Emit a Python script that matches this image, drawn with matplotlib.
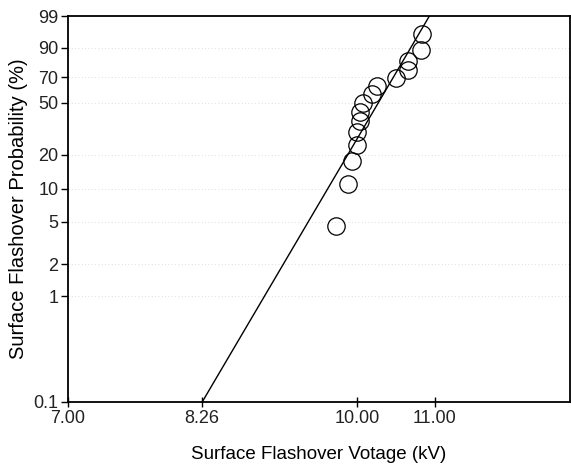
import numpy as np
import matplotlib
matplotlib.use("Agg")
import matplotlib.pyplot as plt
from matplotlib.ticker import FixedLocator, FixedFormatter, NullLocator

# measured flashover voltages (kV) and plotted probabilities (%)
voltage = [9.74, 9.89, 9.94, 10.00, 10.00, 10.03, 10.04, 10.07,
           10.18, 10.25, 10.49, 10.64, 10.64, 10.82, 10.83]
prob = [4.55, 11.04, 17.53, 24.03, 30.52, 37.01, 43.51, 50.00,
        56.49, 62.99, 69.48, 75.97, 82.47, 88.96, 95.45]

# weibull fit line (shape, scale in kV)
beta = 30.1
eta = 10.39

x_ticks = [7.00, 8.26, 10.00, 11.00]
y_ticks = [0.1, 1, 2, 5, 10, 20, 50, 70, 90, 99]
y_labels = ["0.1", "1", "2", "5", "10", "20", "50", "70", "90", "99"]

plt.rcParams["font.family"] = ["Liberation Sans", "DejaVu Sans"]


def fwd(p):
    p = np.clip(np.asarray(p, dtype=float), 1e-6, 100 - 1e-6)
    return np.log(-np.log(1 - p / 100.0))


def inv(y):
    return 100.0 * (1 - np.exp(-np.exp(y)))


fig = plt.figure(figsize=(5.71, 4.68), dpi=100)
ax = fig.add_axes([68 / 571, 66 / 468, 502 / 571, 386 / 468])

ax.set_xscale("log")
ax.set_yscale("function", functions=(fwd, inv))
ax.set_xlim(7.0, 13.0)
ax.set_ylim(0.1, 99)

# faint grid like the scanned original
for yt in y_ticks[1:-1]:
    ax.axhline(yt, color="#d0d0d0", lw=0.6, ls=(0, (1, 3)), zorder=0)

# fitted line
xs = np.exp(np.linspace(np.log(7.0), np.log(13.0), 300))
ps = 100 * (1 - np.exp(-(xs / eta) ** beta))
ax.plot(xs, ps, color="black", lw=1.0)

ax.plot(voltage, prob, "o", ms=12.5, mfc="none", mec="black", mew=0.9)

ax.xaxis.set_major_locator(FixedLocator(x_ticks))
ax.xaxis.set_major_formatter(FixedFormatter(["%.2f" % v for v in x_ticks]))
ax.xaxis.set_minor_locator(NullLocator())
ax.yaxis.set_major_locator(FixedLocator(y_ticks))
ax.yaxis.set_major_formatter(FixedFormatter(y_labels))
ax.yaxis.set_minor_locator(NullLocator())

ax.tick_params(axis="x", direction="inout", length=7, width=1, labelsize=13,
               pad=2, labelcolor="#222222")
ax.tick_params(axis="y", direction="out", length=5, width=1, labelsize=13,
               pad=2, labelcolor="#222222")

for s in ax.spines.values():
    s.set_linewidth(1.3)

ax.set_xlabel("Surface Flashover Votage (kV)", fontsize=13.5, labelpad=14)
ax.set_ylabel("Surface Flashover Probability (%)", fontsize=14.5, labelpad=4)

plt.savefig("out.png", dpi=100)
